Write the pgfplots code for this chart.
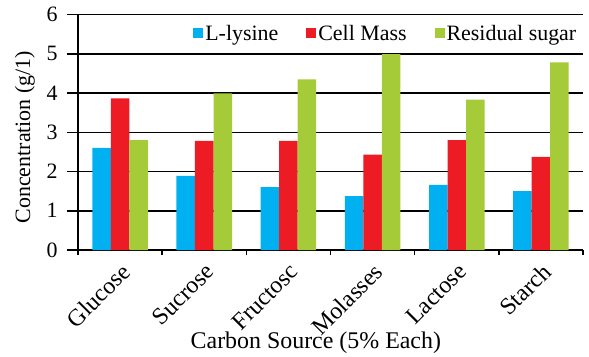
\documentclass[border=0pt]{standalone}
\usepackage{pgfplots}
\pgfplotsset{compat=1.18}
\usepackage{fontspec}
\setmainfont{Liberation Serif}
\definecolor{cLys}{RGB}{0,176,240}
\definecolor{cCell}{RGB}{237,28,36}
\definecolor{cSug}{RGB}{166,203,57}
\pgfplotsset{sq legend/.style={legend image code/.code={\fill[##1] (0bp,-5bp) rectangle (10bp,5bp);}}}
\begin{document}
\begin{tikzpicture}[font=\fontsize{22}{26}\selectfont]
\begin{axis}[
  name=ax,
  scale only axis, width=505bp, height=235.5bp,
  xmin=-0.5, xmax=5.5, ymin=0, ymax=6,
  axis lines=left, axis line style={-, line width=1.5bp, black},
  ybar=0pt, bar width=18.5bp,
  xtick={0,...,5},
  xticklabels={Glucose,Sucrose,Fructosc,Molasses,Lactose,Starch},
  x tick label style={yshift=4bp, rotate=45, anchor=north east, font=\fontsize{24}{28}\selectfont},
  x tick style={draw=none},
  extra x ticks={-0.5,0.5,...,5.5}, extra x tick labels={},
  extra x tick style={x tick style={draw=black, line width=1.5bp}, tick align=outside, major tick length=5bp, grid=none},
  ytick={0,...,6},
  y tick style={draw=black, line width=1.5bp},
  tick align=outside, major tick length=11bp,
  y tick label style={font=\fontsize{22}{26}\selectfont, xshift=-6bp},
  /pgf/number format/assume math mode=true,
  ymajorgrids, grid style={black, line width=1.5bp},
  xlabel={Carbon Source (5\% Each)},
  ylabel={Concentration (g/1)},
  x label style={at={(axis description cs:0.471,0)}, anchor=north, yshift=-78bp, font=\fontsize{24}{28}\selectfont},
  y label style={at={(axis description cs:-0.105,0.479)}, anchor=center, font=\fontsize{22}{26}\selectfont},
  legend columns=3,
  legend style={at={(0.228,0.92)}, anchor=west, draw=none, fill=none, inner sep=0pt,
    font=\fontsize{22}{26}\selectfont,
    /tikz/every even column/.append style={column sep=26bp}},
  legend cell align=left,
  clip=false,
]
\addplot[fill=cLys, draw=none, sq legend] coordinates {(0,2.60) (1,1.89) (2,1.60) (3,1.37) (4,1.66) (5,1.50)};
\addplot[fill=cCell, draw=none, sq legend] coordinates {(0,3.86) (1,2.78) (2,2.78) (3,2.43) (4,2.80) (5,2.37)};
\addplot[fill=cSug, draw=none, sq legend] coordinates {(0,2.80) (1,3.99) (2,4.35) (3,4.99) (4,3.83) (5,4.78)};
\legend{L-lysine, Cell Mass, Residual sugar}
\end{axis}
\pgfresetboundingbox
\path ([shift={(-78bp,-107bp)}]ax.south west) rectangle ([shift={(6bp,14.5bp)}]ax.north east);
\end{tikzpicture}
\end{document}
